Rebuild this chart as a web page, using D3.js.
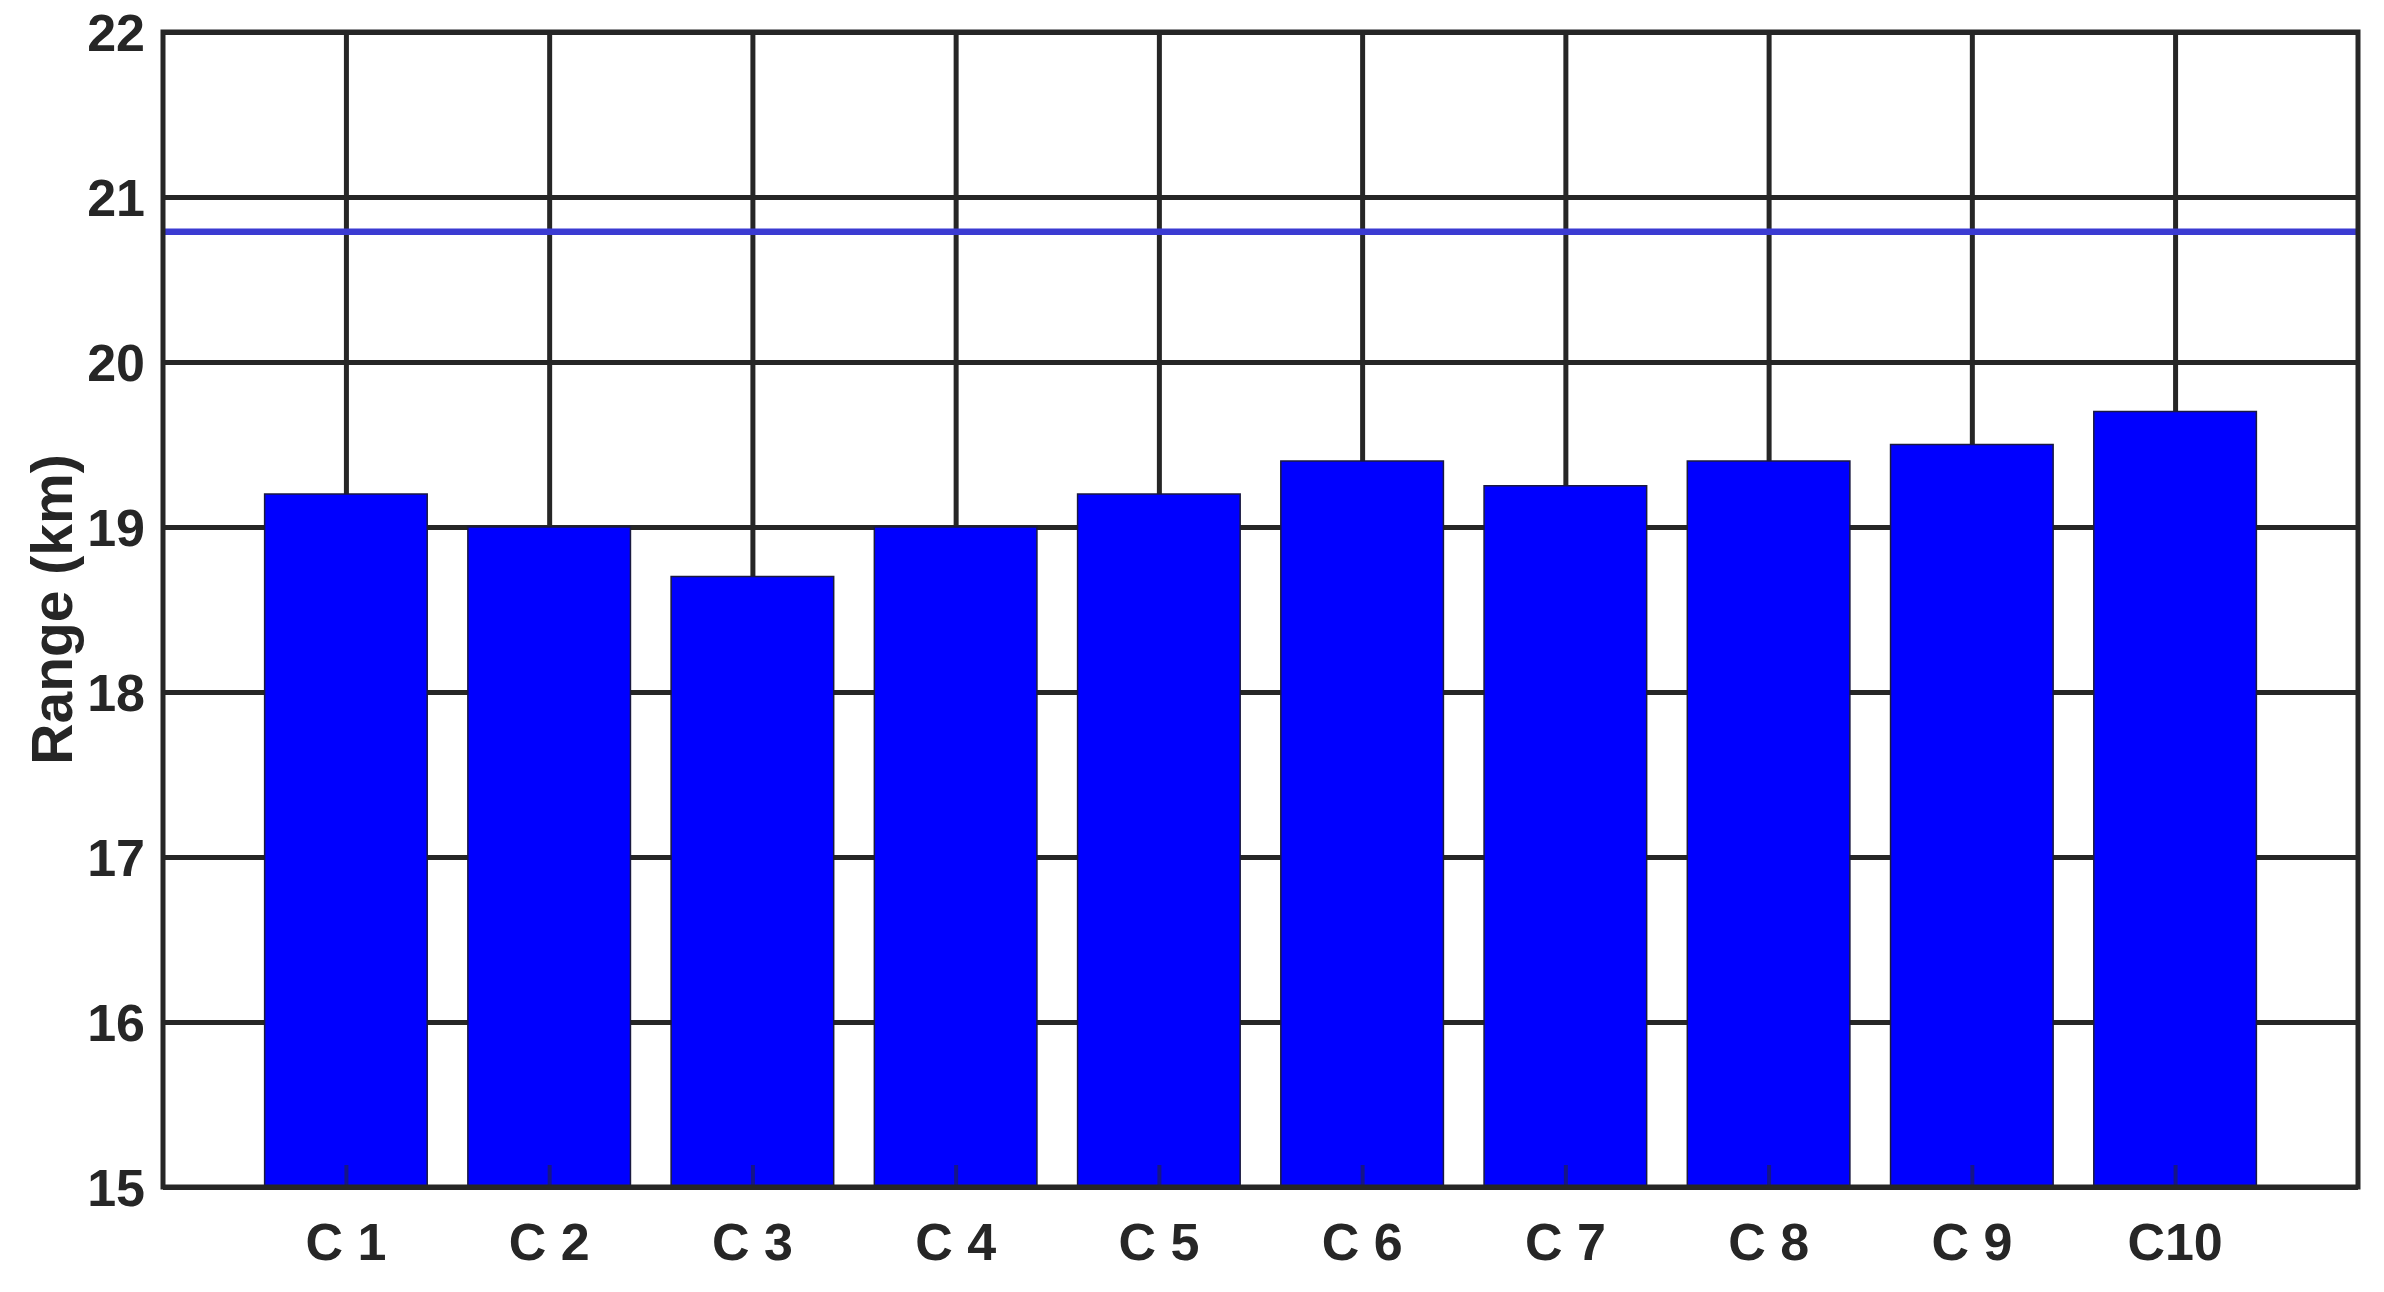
<!DOCTYPE html>
<html>
<head>
<meta charset="utf-8">
<script src="https://cdn.jsdelivr.net/npm/d3@7"></script>
<style>
  body { margin: 0; background: #fff; }
  text { font-family: "Liberation Sans", Arial, sans-serif; font-weight: bold; fill: #262626; }
</style>
</head>
<body>
<svg id="chart" width="2384" height="1292"></svg>
<script>
// datos del grafico
var categorias = ["C 1", "C 2", "C 3", "C 4", "C 5", "C 6", "C 7", "C 8", "C 9", "C10"];
var rangos = [19.2, 19.0, 18.7, 19.0, 19.2, 19.4, 19.25, 19.4, 19.5, 19.7];
var referencia = [20.79];
var yTicks = [15, 16, 17, 18, 19, 20, 21, 22];

var margen = {izq: 163, der: 26, arr: 32, aba: 105};
var W = 2384, H = 1292;
var ancho = W - margen.izq - margen.der;
var alto = H - margen.arr - margen.aba;

var svg = d3.select("#chart");
var g = svg.append("g").attr("transform", "translate(" + margen.izq + "," + margen.arr + ")");

// x como en matlab: posiciones 1..10, limites 0.1 - 10.9
var x = d3.scaleLinear().domain([0.1, 10.9]).range([0, ancho]);
var y = d3.scaleLinear().domain([15, 22]).range([alto, 0]);
var anchoBarra = x(1.8) - x(1); // 0.8 del espaciado

// rejilla horizontal
g.append("g")
  .call(d3.axisLeft(y).tickValues(yTicks).tickSize(-ancho).tickFormat(""))
  .call(function(s){ s.select(".domain").remove(); })
  .selectAll("line").attr("stroke", "#262626").attr("stroke-width", 5);

// rejilla vertical
g.append("g")
  .attr("transform", "translate(0," + alto + ")")
  .call(d3.axisBottom(x).tickValues(d3.range(1, 11)).tickSize(-alto).tickFormat(""))
  .call(function(s){ s.select(".domain").remove(); })
  .selectAll("line").attr("stroke", "#262626").attr("stroke-width", 5);

// barras
g.selectAll("rect.barra")
  .data(rangos)
  .enter()
  .append("rect")
  .attr("class", "barra")
  .attr("x", function(d, i){ return x(i + 1) - anchoBarra / 2; })
  .attr("y", function(d){ return y(d); })
  .attr("width", anchoBarra)
  .attr("height", function(d){ return y(15) - y(d); })
  .attr("fill", "#0000ff")
  .attr("stroke", "#1a1a40")
  .attr("stroke-width", 1.5);

// linea de referencia
g.selectAll("line.ref")
  .data(referencia)
  .enter()
  .append("line")
  .attr("class", "ref")
  .attr("x1", 0).attr("x2", ancho)
  .attr("y1", function(d){ return y(d); })
  .attr("y2", function(d){ return y(d); })
  .attr("stroke", "#3b3bd2")
  .attr("stroke-width", 6.5);

// ticks cortos hacia adentro en el eje x
g.append("g")
  .attr("transform", "translate(0," + alto + ")")
  .call(d3.axisBottom(x).tickValues(d3.range(1, 11)).tickSize(-22).tickFormat(""))
  .call(function(s){ s.select(".domain").remove(); })
  .selectAll("line").attr("stroke", "#262626").attr("stroke-width", 4).attr("opacity", 0.55);

// caja
g.append("rect")
  .attr("x", 0).attr("y", 0)
  .attr("width", ancho).attr("height", alto)
  .attr("fill", "none")
  .attr("stroke", "#262626")
  .attr("stroke-width", 5);

// etiquetas eje y
g.append("g")
  .call(d3.axisLeft(y).tickValues(yTicks).tickSize(0).tickPadding(18).tickFormat(d3.format("d")))
  .call(function(s){ s.select(".domain").remove(); })
  .selectAll("text")
  .attr("font-size", "52px")
  .attr("dy", "0.36em");

// etiquetas eje x
g.selectAll("text.cat")
  .data(categorias)
  .enter()
  .append("text")
  .attr("class", "cat")
  .attr("x", function(d, i){ return x(i + 1); })
  .attr("y", alto + 73)
  .attr("text-anchor", "middle")
  .attr("font-size", "52px")
  .text(function(d){ return d; });

// titulo eje y
svg.append("text")
  .attr("transform", "translate(72," + (margen.arr + alto / 2) + ") rotate(-90)")
  .attr("text-anchor", "middle")
  .attr("font-size", "57px")
  .text("Range (km)");
</script>
</body>
</html>
